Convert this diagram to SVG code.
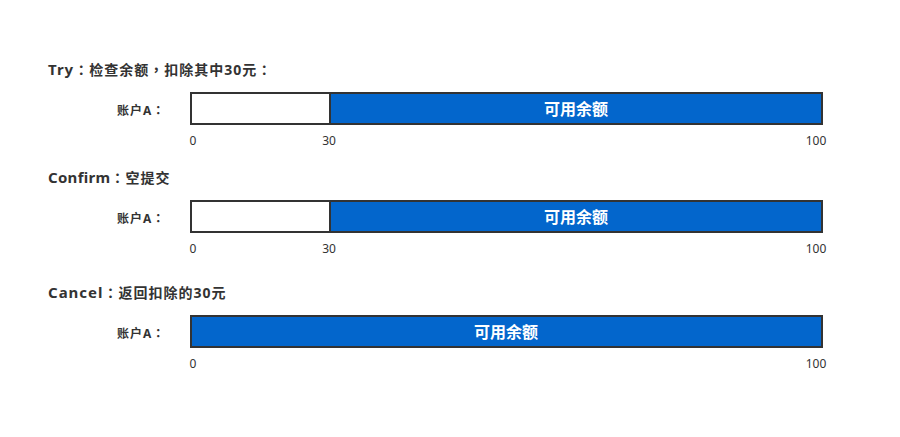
<svg xmlns="http://www.w3.org/2000/svg" width="900" height="437" viewBox="0 0 900 437">
<style>
.title{font-family:"Noto Sans","Noto Sans CJK SC",sans-serif;font-size:14px;font-weight:bold;fill:#333;letter-spacing:1px}
.lat{font-size:15px}
.lab{font-family:"Noto Sans","Noto Sans CJK SC",sans-serif;font-size:12px;font-weight:bold;fill:#333;letter-spacing:1px}
.p{font-family:"Noto Sans CJK TC",sans-serif}
.tick{font-family:"Noto Sans","Noto Sans CJK SC",sans-serif;font-size:12px;fill:#333;text-anchor:middle}
.inner{font-family:"Noto Sans","Noto Sans CJK SC",sans-serif;font-size:16px;font-weight:bold;fill:#fff;text-anchor:middle}
.empty{fill:#fff;stroke:#333;stroke-width:2}
.used{fill:#0366CC;stroke:#333;stroke-width:2}
</style>
<rect width="900" height="437" fill="#fff"/>
<g id="try">
<text class="title" x="48" y="75"><tspan class="lat">Try</tspan><tspan class="p">：</tspan>检查余额<tspan class="p">，</tspan>扣除其中30元<tspan class="p">：</tspan></text>
<text class="lab" x="117" y="115">账户A<tspan class="p">：</tspan></text>
<rect class="empty" x="191" y="93" width="139" height="31"/>
<rect class="used" x="330" y="93" width="492" height="31"/>
<text class="inner" x="576" y="115">可用余额</text>
<text class="tick" x="193" y="145">0</text>
<text class="tick" x="329" y="145">30</text>
<text class="tick" x="816" y="145">100</text>
</g>
<g id="confirm">
<text class="title" x="48" y="183"><tspan class="lat" style="letter-spacing:0.3px">Confirm</tspan><tspan class="p">：</tspan>空提交</text>
<text class="lab" x="117" y="223">账户A<tspan class="p">：</tspan></text>
<rect class="empty" x="191" y="201" width="139" height="31"/>
<rect class="used" x="330" y="201" width="492" height="31"/>
<text class="inner" x="576" y="223">可用余额</text>
<text class="tick" x="193" y="253">0</text>
<text class="tick" x="329" y="253">30</text>
<text class="tick" x="816" y="253">100</text>
</g>
<g id="cancel">
<text class="title" x="48" y="298"><tspan class="lat">Cancel</tspan><tspan class="p">：</tspan>返回扣除的30元</text>
<text class="lab" x="117" y="338">账户A<tspan class="p">：</tspan></text>
<rect class="used" x="191" y="316" width="631" height="31"/>
<text class="inner" x="506" y="338">可用余额</text>
<text class="tick" x="193" y="368">0</text>
<text class="tick" x="816" y="368">100</text>
</g>
<g id="connectors"></g>
</svg>
